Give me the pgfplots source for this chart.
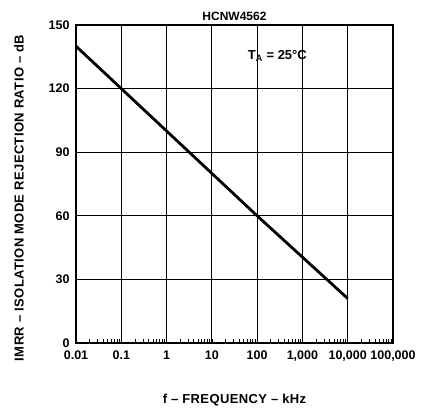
\documentclass[border=0pt]{standalone}
\usepackage{fontspec}
\setmainfont{Liberation Sans}
\usepackage{pgfplots}
\pgfplotsset{compat=1.18}
\begin{document}
\begin{tikzpicture}
\useasboundingbox (-76pt,-73pt) rectangle (347pt,343pt);
\begin{axis}[
  at={(0pt,0pt)}, anchor=south west,
  scale only axis, width=317pt, height=318pt,
  xmode=log, xmin=0.01, xmax=100000,
  ymin=0, ymax=150,
  xtick={0.01,0.1,1,10,100,1000,10000,100000},
  xticklabels={0.01,0.1,1,10,100,{1,000},{10,000},{100,000}},
  ytick={0,30,60,90,120,150},
  grid=major,
  major grid style={black, line width=0.8pt},
  axis line style={black, line width=1.3pt},
  major tick length=0pt,
  minor tick length=4pt,
  minor tick style={black, line width=0.7pt},
  tick align=inside,
  xtick pos=bottom, ytick pos=left,
  minor x tick num=8,
  minor y tick num=0,
  /pgf/number format/assume math mode=true,
  tick label style={font=\fontsize{12.5}{14}\selectfont\bfseries},
  xticklabel style={yshift=-4pt},
  yticklabel style={xshift=-3pt},
  title={\fontsize{12}{14}\selectfont\bfseries HCNW4562},
  title style={yshift=-5pt},
  xlabel={\fontsize{13}{15}\selectfont\bfseries\addfontfeature{LetterSpace=3} f -- FREQUENCY -- kHz},
  xlabel style={yshift=-26pt},
  ylabel={\fontsize{13}{15}\selectfont\bfseries\addfontfeature{LetterSpace=3} IMRR -- ISOLATION MODE REJECTION RATIO -- dB},
  ylabel style={yshift=18pt, xshift=-14pt},
]
\addplot[black, line width=2.8pt] coordinates {
  (0.01,140) (0.1,120) (1,100) (10,80) (100,60) (1000,40.5) (10000,21)
};
\node[font=\fontsize{13}{15}\selectfont\bfseries] at (axis cs:280,135.5) {T\textsubscript{A} = 25°C};
\end{axis}
\end{tikzpicture}
\end{document}
